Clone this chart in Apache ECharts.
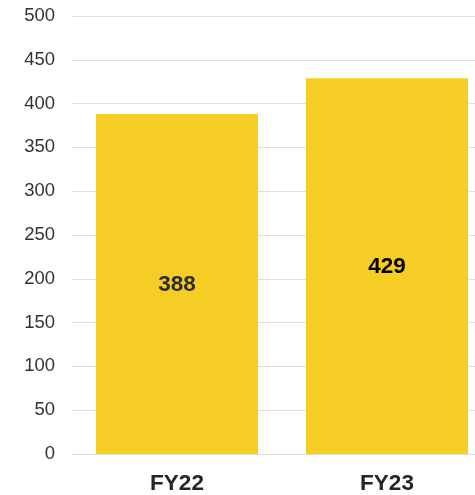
<!DOCTYPE html>
<html>
<head>
<meta charset="utf-8">
<script src="https://cdn.jsdelivr.net/npm/echarts@6/dist/echarts.min.js"></script>
<style>
  html, body { margin: 0; padding: 0; background: #fff; }
  #chart { width: 475px; height: 495px; }
</style>
</head>
<body>
<div id="chart"></div>
<script>
const categories = ['FY22', 'FY23'];
const values = [388, 429];
const labelColors = ['#2a2e3a', '#000000'];

const chart = echarts.init(document.getElementById('chart'));
chart.setOption({
  animation: false,
  textStyle: { fontFamily: 'Liberation Sans, Arial, sans-serif' },
  // plot area runs a little past the right edge of the canvas
  grid: { left: 72, width: 420, top: 16, bottom: 41, containLabel: false, outerBoundsMode: 'none' },
  xAxis: {
    type: 'category',
    data: categories,
    axisLine: { show: false },
    axisTick: { show: false },
    axisLabel: { color: '#22252e', fontSize: 22.5, fontWeight: 'bold', margin: 18 }
  },
  yAxis: {
    type: 'value',
    min: 0,
    max: 500,
    interval: 50,
    axisLine: { show: false },
    axisTick: { show: false },
    axisLabel: { color: '#333', fontSize: 18.5, margin: 17 },
    splitLine: { lineStyle: { color: '#dedede', width: 1 } }
  },
  series: [{
    type: 'bar',
    barWidth: 162,
    data: values.map((v, i) => ({
      value: v,
      label: { color: labelColors[i] }
    })),
    itemStyle: { color: '#f5cd24' },
    label: {
      show: true,
      position: 'inside',
      offset: [0, 1],
      fontSize: 22.5,
      fontWeight: 'bold'
    }
  }]
});
</script>
</body>
</html>
